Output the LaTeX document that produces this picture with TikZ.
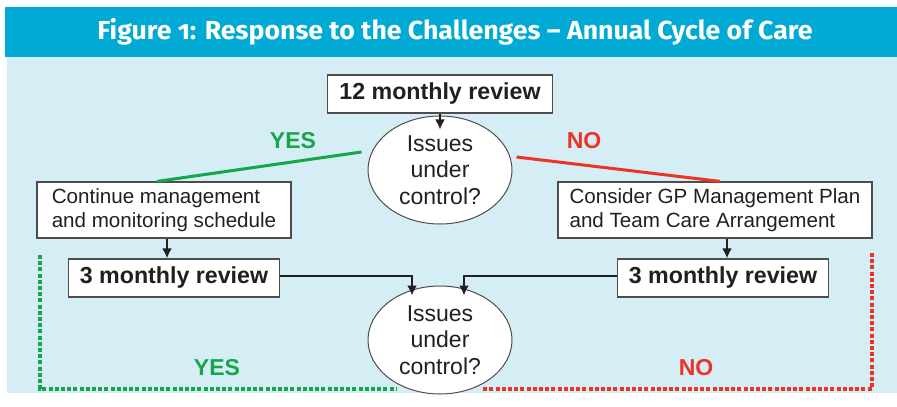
\documentclass[tikz,border=0pt]{standalone}
\usepackage{fontspec}
\usepackage{graphicx}
\setmainfont{Liberation Sans}
\newfontfamily\titlefont{Fira Sans}[Numbers=OldStyle]
\usetikzlibrary{arrows.meta,shapes.geometric}

\definecolor{barblue}{RGB}{0,170,212}
\definecolor{paleblue}{RGB}{213,238,245}
\definecolor{yesgreen}{RGB}{22,166,74}
\definecolor{nored}{RGB}{238,50,36}
\definecolor{inkgrey}{RGB}{35,31,32}

\tikzset{
  stepbox/.style={draw=inkgrey!80, line width=0.6pt, fill=white, text=inkgrey,
    font=\fontsize{10.3}{12}\selectfont, align=left, inner sep=0pt},
  reviewbox/.style={draw=inkgrey!80, line width=0.6pt, fill=white, text=inkgrey,
    font=\bfseries\fontsize{11.6}{13}\selectfont, inner sep=0pt,
    minimum width=105.5pt, minimum height=19pt},
  question/.style={ellipse, draw=inkgrey!80, line width=0.5pt, fill=white, text=inkgrey,
    font=\fontsize{11.5}{13.2}\selectfont, align=center, inner sep=0pt,
    minimum width=72pt, minimum height=54pt},
  arr/.style={draw=inkgrey, line width=1.4pt, -{Latex[length=5pt,width=5pt]}},
  answer/.style={font=\bfseries\fontsize{11.5}{13}\selectfont},
  yesline/.style={yesgreen, line width=1.5pt},
  noline/.style={nored, line width=1.5pt},
  loop/.style={line width=1.6pt, dash pattern=on 2pt off 1.1pt}
}

\begin{document}
\begin{tikzpicture}[x=0.5pt,y=-0.5pt]
  \useasboundingbox (0,0) rectangle (897,406);
  % panel and heading bar
  \fill[paleblue] (7,57) rectangle (897,393);
  \fill[barblue] (5,7) rectangle (897,57);
  \node[text=white] (title) at (455,32)
    {\resizebox{357.5pt}{\height}{\titlefont\bfseries\fontsize{13}{15}\selectfont Figure 1: Response to the Challenges – Annual Cycle of Care}};

  % first review and decision
  \node[reviewbox, minimum width=112.5pt] (yearly) at (440,94) {12 monthly review};
  \node[question] (check1) at (440,170) {Issues\\under\\control?};
  \draw[arr] (yearly) -- ([yshift=-7pt]check1.north);

  \node[stepbox, minimum width=127pt, minimum height=28pt] (cont) at (164,210)
    {Continue management\\and monitoring schedule};
  \node[stepbox, minimum width=157pt, minimum height=28pt] (gpplan) at (715,210)
    {Consider GP Management Plan\\and Team Care Arrangement};

  \draw[yesline] ([shift={(-3pt,9pt)}]check1.west) -- ([xshift=-3.5pt]cont.north);
  \draw[noline] ([shift={(2pt,6.5pt)}]check1.east) -- ([xshift=2.5pt]gpplan.north);
  \node[answer, text=yesgreen] (yes1) at (293,141) {YES};
  \node[answer, text=nored] (no1) at (584,141) {NO};

  % quarterly reviews
  \node[reviewbox] (quartL) at (174,278) {3 monthly review};
  \node[reviewbox] (quartR) at (723,278) {3 monthly review};
  \draw[arr] ([xshift=1.5pt]cont.south) -- ([xshift=1.5pt]cont.south |- quartL.north);
  \draw[arr] ([xshift=6pt]gpplan.south) -- ([xshift=6pt]gpplan.south |- quartR.north);

  \node[question] (check2) at (440,340) {Issues\\under\\control?};
  \draw[arr] ([yshift=1pt]quartL.east) -| ([shift={(-14pt,-5pt)}]check2.north);
  \draw[arr] ([yshift=1pt]quartR.west) -| ([shift={(12pt,-5pt)}]check2.north);

  % loops back round
  \coordinate (yesTop) at (40,255);
  \coordinate (yesEnd) at (397,389);
  \coordinate (noTop) at (872,253);
  \coordinate (noEnd) at (483,389);
  \draw[loop, yesgreen] (yesTop) |- (yesEnd);
  \draw[loop, nored] (noTop) |- (noEnd);
  \node[answer, text=yesgreen] (yes2) at (217,368) {YES};
  \node[answer, text=nored] (no2) at (696,368) {NO};
\end{tikzpicture}
\end{document}
